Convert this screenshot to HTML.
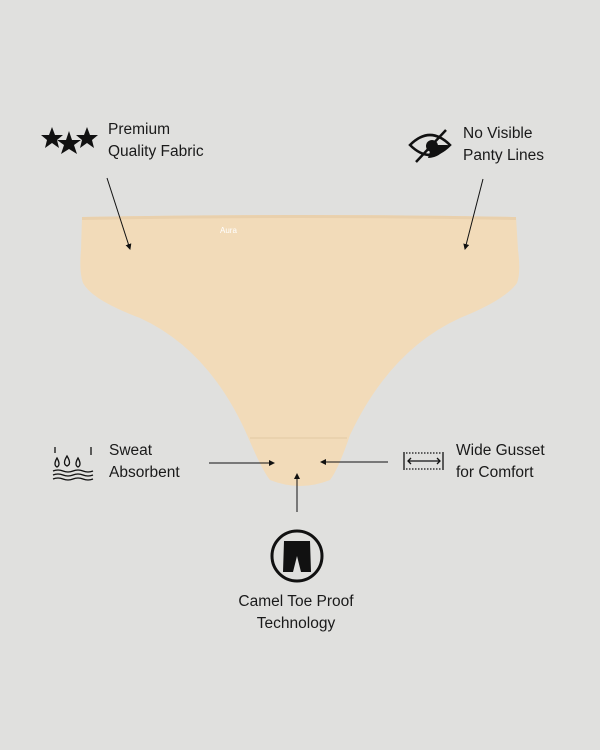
<!DOCTYPE html>
<html><head><meta charset="utf-8"><style>
body{margin:0;width:600px;height:750px;background:#e0e0de;overflow:hidden;font-family:"Liberation Sans",sans-serif;}
svg{position:absolute;left:0;top:0}
.t{position:absolute;font-size:15.5px;line-height:22px;color:#1a1a1a}
</style></head><body>
<svg width="600" height="750" viewBox="0 0 600 750">
<defs><marker id="a" markerWidth="6" markerHeight="6" refX="5" refY="3" orient="auto"><path d="M0,0 L6,3 L0,6 z" fill="#111"/></marker></defs>
<path d="M82,217 Q300,213 516,217 L518,250 Q521,272 517,283 Q505,300 460,318 Q390,350 350,435 Q338,470 330,480 Q300,492 270,480 Q262,470 248,437 Q210,350 140,318 Q92,300 83,283 Q79,272 81,250 Z" fill="#f2dbb9"/>
<path d="M82,217 Q300,213 516,217 L516,220 Q300,216 82,220 Z" fill="#e9d0ac"/>
<path d="M250,438 L347,438" stroke="#e8cfaa" stroke-width="1.5"/>
<text x="220" y="233" font-size="8" fill="#fff" font-family="Liberation Sans">Aura</text>
<g stroke="#111" stroke-width="1" fill="none">
<line x1="107" y1="178" x2="130" y2="249" marker-end="url(#a)"/>
<line x1="483" y1="179" x2="465" y2="249" marker-end="url(#a)"/>
<line x1="209" y1="463" x2="274" y2="463" marker-end="url(#a)"/>
<line x1="388" y1="462" x2="321" y2="462" marker-end="url(#a)"/>
<line x1="297" y1="512" x2="297" y2="474" marker-end="url(#a)"/>
</g>
<g fill="#111">
<polygon points="52,127 55,135 63,135 57,140 59,148 52,143 45,148 47,140 41,135 49,135"/>
<polygon points="69,131 72,140 81,140 74,145 77,154 69,149 61,154 64,145 57,140 66,140"/>
<polygon points="87,127 90,135 98,135 92,140 94,148 87,143 80,148 82,140 76,135 84,135"/>
</g>
<g stroke="#111" stroke-width="2.5" fill="none">
<path d="M410,145 Q430,125 450,145 Q430,165 410,145 Z"/>
<line x1="416" y1="162" x2="446" y2="130"/>
</g>
<path d="M432,145 L448,145 Q440,158 428,158 Z" fill="#111"/>
<circle cx="432" cy="146" r="6" fill="#111"/>
<g stroke="#111" stroke-width="1.3" fill="none">
<path d="M57,458 q-4,7 0,9 q4,-2 0,-9z M67,456 q-5,8 0,10 q5,-2 0,-10z M78,458 q-4,7 0,9 q4,-2 0,-9z"/>
<path d="M53,471 q5,-2 10,0 t10,0 t10,0 t10,0 M53,475 q5,-2 10,0 t10,0 t10,0 t10,0 M53,479 q5,-2 10,0 t10,0 t10,0 t10,0"/>
<line x1="91" y1="447" x2="91" y2="455"/><line x1="55" y1="447" x2="55" y2="453"/>
<line x1="404" y1="452" x2="404" y2="470"/><line x1="443" y1="452" x2="443" y2="470"/>
<line x1="408" y1="461" x2="440" y2="461"/>
<path d="M411,458 l-3,3 3,3 M437,458 l3,3 -3,3"/>
<line x1="406" y1="453" x2="441" y2="453" stroke-dasharray="1.5 1.5"/>
<line x1="406" y1="469" x2="441" y2="469" stroke-dasharray="1.5 1.5"/>
</g>
<circle cx="297" cy="556" r="25" fill="none" stroke="#111" stroke-width="3"/>
<path d="M284,541 L310,541 L311,572 L301,572 L297,556 L293,572 L283,572 Z" fill="#111"/>
</svg>
<div class="t" style="left:108px;top:119px">Premium<br>Quality Fabric</div>
<div class="t" style="left:463px;top:123px">No Visible<br>Panty Lines</div>
<div class="t" style="left:109px;top:440px">Sweat<br>Absorbent</div>
<div class="t" style="left:456px;top:440px">Wide Gusset<br>for Comfort</div>
<div class="t" style="left:196px;top:591px;width:200px;text-align:center">Camel Toe Proof<br>Technology</div>
</body></html>
